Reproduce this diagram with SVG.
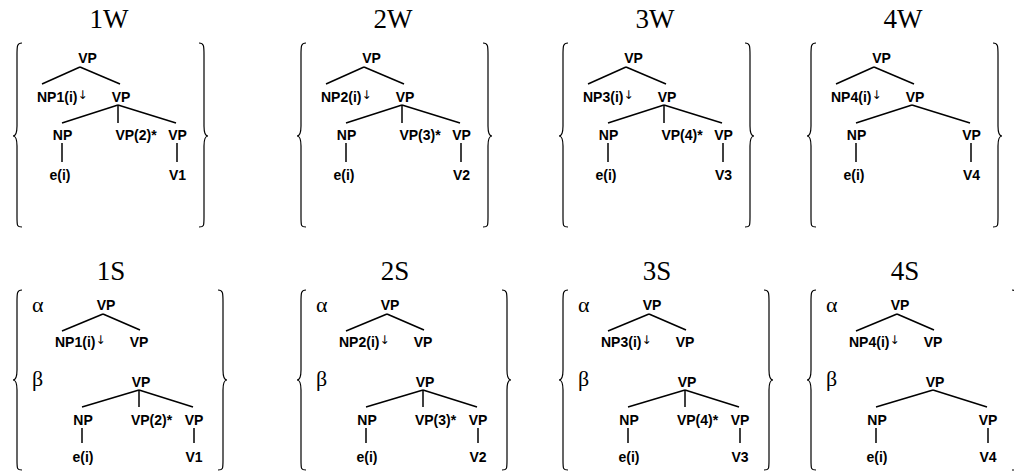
<svg xmlns="http://www.w3.org/2000/svg" width="1014" height="472" viewBox="0 0 1014 472">
<style>
.t{font-family:"Liberation Serif",serif;font-size:27px;fill:#000;text-anchor:middle}
.g{font-family:"Liberation Serif",serif;font-size:22px;fill:#000}
.n{font-family:"Liberation Sans",Arial,sans-serif;font-weight:bold;font-size:14px;fill:#000;text-anchor:middle}
.s{font-family:"Liberation Sans",Arial,sans-serif;font-weight:bold;font-size:14px;fill:#000}
.a{font-family:"DejaVu Sans",sans-serif;font-weight:normal;font-size:12px;fill:#000}
.e{stroke:#000;stroke-width:1.5;fill:none}
.b{stroke:#000;stroke-width:1.2;fill:none}
</style>
<defs>
<path id="bTL" class="b" d="M22,43 C17,43 17,46 17,55 L17,126 C17,133 16,136 13,136 C16,136 17,139 17,146 L17,217 C17,226 17,227 22,227"/>
<path id="bTR" class="b" d="M199,43 C204,43 204,46 204,55 L204,126 C204,133 205,136 208,136 C205,136 204,139 204,146 L204,217 C204,226 204,227 199,227"/>
<path id="bBL" class="b" d="M22,290 C17,290 17,293 17,302 L17,370 C17,377 16,380 13,380 C16,380 17,383 17,390 L17,460 C17,469 17,470 22,470"/>
<path id="bBR" class="b" d="M218,290 C223,290 223,293 223,302 L223,370 C223,377 224,380 227,380 C224,380 223,383 223,390 L223,460 C223,469 223,470 218,470"/>
</defs>

<!-- ===== Top row ===== -->
<g id="panel-1W">
  <text class="t" x="109" y="28">1W</text>
  <use href="#bTL"/><use href="#bTR"/>
  <g id="w1-connectors">
    <line class="e" x1="80" y1="67" x2="42" y2="84"/><line class="e" x1="80" y1="67" x2="120" y2="84"/>
    <line class="e" x1="118" y1="105" x2="62" y2="123"/><line class="e" x1="118" y1="105" x2="118" y2="123"/><line class="e" x1="118" y1="105" x2="176" y2="123"/>
    <line class="e" x1="62" y1="143" x2="62" y2="162"/><line class="e" x1="177" y1="143" x2="177" y2="162"/>
  </g>
  <g id="w1-vp0"><text class="n" x="87.5" y="63">VP</text></g>
  <g id="w1-np"><text class="s" x="37" y="102">NP1(i)<tspan class="a" dy="-3">↓</tspan></text></g>
  <g id="w1-vp1"><text class="n" x="121" y="102">VP</text></g>
  <g id="w1-np2"><text class="n" x="62.5" y="140">NP</text></g>
  <g id="w1-vpstar"><text class="n" x="136" y="140">VP(2)*</text></g>
  <g id="w1-vp2"><text class="n" x="177.5" y="140">VP</text></g>
  <g id="w1-e"><text class="n" x="60" y="180">e(i)</text></g>
  <g id="w1-v"><text class="n" x="177.5" y="180">V1</text></g>
</g>

<g id="panel-2W" transform="translate(284,0)">
  <text class="t" x="109" y="28">2W</text>
  <use href="#bTL"/><use href="#bTR"/>
  <g id="w2-connectors">
    <line class="e" x1="80" y1="67" x2="42" y2="84"/><line class="e" x1="80" y1="67" x2="120" y2="84"/>
    <line class="e" x1="118" y1="105" x2="62" y2="123"/><line class="e" x1="118" y1="105" x2="118" y2="123"/><line class="e" x1="118" y1="105" x2="176" y2="123"/>
    <line class="e" x1="62" y1="143" x2="62" y2="162"/><line class="e" x1="177" y1="143" x2="177" y2="162"/>
  </g>
  <g id="w2-vp0"><text class="n" x="87.5" y="63">VP</text></g>
  <g id="w2-np"><text class="s" x="37" y="102">NP2(i)<tspan class="a" dy="-3">↓</tspan></text></g>
  <g id="w2-vp1"><text class="n" x="121" y="102">VP</text></g>
  <g id="w2-np2"><text class="n" x="62.5" y="140">NP</text></g>
  <g id="w2-vpstar"><text class="n" x="136" y="140">VP(3)*</text></g>
  <g id="w2-vp2"><text class="n" x="177.5" y="140">VP</text></g>
  <g id="w2-e"><text class="n" x="60" y="180">e(i)</text></g>
  <g id="w2-v"><text class="n" x="177.5" y="180">V2</text></g>
</g>

<g id="panel-3W" transform="translate(546,0)">
  <text class="t" x="109" y="28">3W</text>
  <use href="#bTL"/><use href="#bTR"/>
  <g id="w3-connectors">
    <line class="e" x1="80" y1="67" x2="42" y2="84"/><line class="e" x1="80" y1="67" x2="120" y2="84"/>
    <line class="e" x1="118" y1="105" x2="62" y2="123"/><line class="e" x1="118" y1="105" x2="118" y2="123"/><line class="e" x1="118" y1="105" x2="176" y2="123"/>
    <line class="e" x1="62" y1="143" x2="62" y2="162"/><line class="e" x1="177" y1="143" x2="177" y2="162"/>
  </g>
  <g id="w3-vp0"><text class="n" x="87.5" y="63">VP</text></g>
  <g id="w3-np"><text class="s" x="37" y="102">NP3(i)<tspan class="a" dy="-3">↓</tspan></text></g>
  <g id="w3-vp1"><text class="n" x="121" y="102">VP</text></g>
  <g id="w3-np2"><text class="n" x="62.5" y="140">NP</text></g>
  <g id="w3-vpstar"><text class="n" x="136" y="140">VP(4)*</text></g>
  <g id="w3-vp2"><text class="n" x="177.5" y="140">VP</text></g>
  <g id="w3-e"><text class="n" x="60" y="180">e(i)</text></g>
  <g id="w3-v"><text class="n" x="177.5" y="180">V3</text></g>
</g>

<g id="panel-4W" transform="translate(794,0)">
  <text class="t" x="109" y="28">4W</text>
  <use href="#bTL"/><use href="#bTR"/>
  <g id="w4-connectors">
    <line class="e" x1="80" y1="67" x2="42" y2="84"/><line class="e" x1="80" y1="67" x2="120" y2="84"/>
    <line class="e" x1="118" y1="105" x2="62" y2="123"/><line class="e" x1="118" y1="105" x2="176" y2="123"/>
    <line class="e" x1="62" y1="143" x2="62" y2="162"/><line class="e" x1="177" y1="143" x2="177" y2="162"/>
  </g>
  <g id="w4-vp0"><text class="n" x="87.5" y="63">VP</text></g>
  <g id="w4-np"><text class="s" x="37" y="102">NP4(i)<tspan class="a" dy="-3">↓</tspan></text></g>
  <g id="w4-vp1"><text class="n" x="121" y="102">VP</text></g>
  <g id="w4-np2"><text class="n" x="62.5" y="140">NP</text></g>
  <g id="w4-vp2"><text class="n" x="177.5" y="140">VP</text></g>
  <g id="w4-e"><text class="n" x="60" y="180">e(i)</text></g>
  <g id="w4-v"><text class="n" x="177.5" y="180">V4</text></g>
</g>

<!-- ===== Bottom row ===== -->
<g id="panel-1S">
  <text class="t" x="111" y="280">1S</text>
  <use href="#bBL"/><use href="#bBR"/>
  <text class="g" x="32" y="312">α</text><text class="g" x="32" y="386">β</text>
  <g id="s1-connectors">
    <line class="e" x1="103" y1="314" x2="62" y2="331"/><line class="e" x1="103" y1="314" x2="140" y2="330"/>
    <line class="e" x1="139" y1="390" x2="82" y2="407"/><line class="e" x1="139" y1="390" x2="139" y2="407"/><line class="e" x1="139" y1="390" x2="193" y2="407"/>
    <line class="e" x1="82" y1="428" x2="82" y2="443"/><line class="e" x1="194" y1="428" x2="194" y2="443"/>
  </g>
  <g id="s1-a-vp"><text class="n" x="106" y="310">VP</text></g>
  <g id="s1-a-np"><text class="s" x="55" y="347">NP1(i)<tspan class="a" dy="-3">↓</tspan></text></g>
  <g id="s1-a-vp1"><text class="n" x="139" y="347">VP</text></g>
  <g id="s1-b-vp"><text class="n" x="141" y="387">VP</text></g>
  <g id="s1-b-np"><text class="n" x="83" y="425">NP</text></g>
  <g id="s1-b-vpstar"><text class="n" x="151.5" y="425">VP(2)*</text></g>
  <g id="s1-b-vp2"><text class="n" x="194" y="425">VP</text></g>
  <g id="s1-b-e"><text class="n" x="83" y="462">e(i)</text></g>
  <g id="s1-b-v"><text class="n" x="194" y="462">V1</text></g>
</g>

<g id="panel-2S" transform="translate(284,0)">
  <text class="t" x="111" y="280">2S</text>
  <use href="#bBL"/><use href="#bBR"/>
  <text class="g" x="32" y="312">α</text><text class="g" x="32" y="386">β</text>
  <g id="s2-connectors">
    <line class="e" x1="103" y1="314" x2="62" y2="331"/><line class="e" x1="103" y1="314" x2="140" y2="330"/>
    <line class="e" x1="139" y1="390" x2="82" y2="407"/><line class="e" x1="139" y1="390" x2="139" y2="407"/><line class="e" x1="139" y1="390" x2="193" y2="407"/>
    <line class="e" x1="82" y1="428" x2="82" y2="443"/><line class="e" x1="194" y1="428" x2="194" y2="443"/>
  </g>
  <g id="s2-a-vp"><text class="n" x="106" y="310">VP</text></g>
  <g id="s2-a-np"><text class="s" x="55" y="347">NP2(i)<tspan class="a" dy="-3">↓</tspan></text></g>
  <g id="s2-a-vp1"><text class="n" x="139" y="347">VP</text></g>
  <g id="s2-b-vp"><text class="n" x="141" y="387">VP</text></g>
  <g id="s2-b-np"><text class="n" x="83" y="425">NP</text></g>
  <g id="s2-b-vpstar"><text class="n" x="151.5" y="425">VP(3)*</text></g>
  <g id="s2-b-vp2"><text class="n" x="194" y="425">VP</text></g>
  <g id="s2-b-e"><text class="n" x="83" y="462">e(i)</text></g>
  <g id="s2-b-v"><text class="n" x="194" y="462">V2</text></g>
</g>

<g id="panel-3S" transform="translate(546,0)">
  <text class="t" x="111" y="280">3S</text>
  <use href="#bBL"/><use href="#bBR"/>
  <text class="g" x="32" y="312">α</text><text class="g" x="32" y="386">β</text>
  <g id="s3-connectors">
    <line class="e" x1="103" y1="314" x2="62" y2="331"/><line class="e" x1="103" y1="314" x2="140" y2="330"/>
    <line class="e" x1="139" y1="390" x2="82" y2="407"/><line class="e" x1="139" y1="390" x2="139" y2="407"/><line class="e" x1="139" y1="390" x2="193" y2="407"/>
    <line class="e" x1="82" y1="428" x2="82" y2="443"/><line class="e" x1="194" y1="428" x2="194" y2="443"/>
  </g>
  <g id="s3-a-vp"><text class="n" x="106" y="310">VP</text></g>
  <g id="s3-a-np"><text class="s" x="55" y="347">NP3(i)<tspan class="a" dy="-3">↓</tspan></text></g>
  <g id="s3-a-vp1"><text class="n" x="139" y="347">VP</text></g>
  <g id="s3-b-vp"><text class="n" x="141" y="387">VP</text></g>
  <g id="s3-b-np"><text class="n" x="83" y="425">NP</text></g>
  <g id="s3-b-vpstar"><text class="n" x="151.5" y="425">VP(4)*</text></g>
  <g id="s3-b-vp2"><text class="n" x="194" y="425">VP</text></g>
  <g id="s3-b-e"><text class="n" x="83" y="462">e(i)</text></g>
  <g id="s3-b-v"><text class="n" x="194" y="462">V3</text></g>
</g>

<g id="panel-4S" transform="translate(794,0)">
  <text class="t" x="111" y="280">4S</text>
  <use href="#bBL"/><use href="#bBR"/>
  <text class="g" x="32" y="312">α</text><text class="g" x="32" y="386">β</text>
  <g id="s4-connectors">
    <line class="e" x1="103" y1="314" x2="62" y2="331"/><line class="e" x1="103" y1="314" x2="140" y2="330"/>
    <line class="e" x1="139" y1="390" x2="82" y2="407"/><line class="e" x1="139" y1="390" x2="193" y2="407"/>
    <line class="e" x1="82" y1="428" x2="82" y2="443"/><line class="e" x1="194" y1="428" x2="194" y2="443"/>
  </g>
  <g id="s4-a-vp"><text class="n" x="106" y="310">VP</text></g>
  <g id="s4-a-np"><text class="s" x="55" y="347">NP4(i)<tspan class="a" dy="-3">↓</tspan></text></g>
  <g id="s4-a-vp1"><text class="n" x="139" y="347">VP</text></g>
  <g id="s4-b-vp"><text class="n" x="141" y="387">VP</text></g>
  <g id="s4-b-np"><text class="n" x="83" y="425">NP</text></g>
  <g id="s4-b-vp2"><text class="n" x="194" y="425">VP</text></g>
  <g id="s4-b-e"><text class="n" x="83" y="462">e(i)</text></g>
  <g id="s4-b-v"><text class="n" x="194" y="462">V4</text></g>
</g>
</svg>
